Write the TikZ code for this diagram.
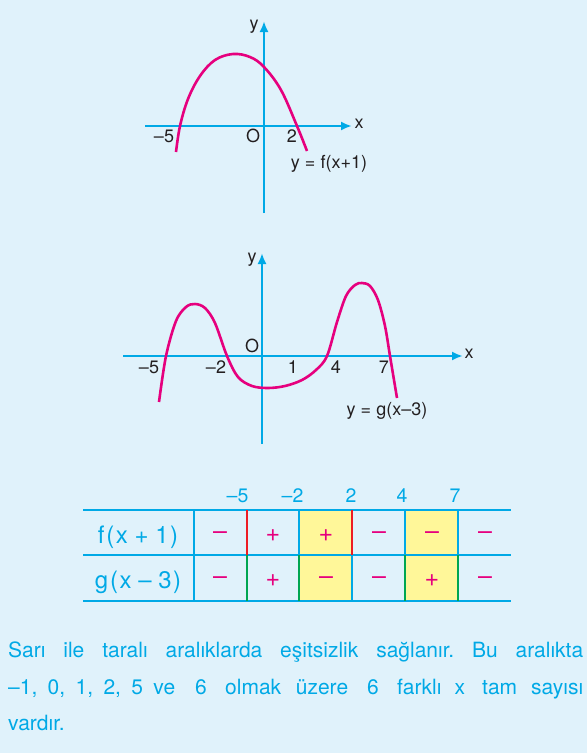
\documentclass[tikz,border=0pt]{standalone}
\usepackage{fontspec}
\setmainfont{TeX Gyre Heros}
\usetikzlibrary{arrows.meta}
\definecolor{bg}{RGB}{224,242,251}
\definecolor{cy}{RGB}{0,169,230}
\definecolor{mg}{RGB}{230,0,126}
\definecolor{rd}{RGB}{237,28,36}
\definecolor{gr}{RGB}{0,166,81}
\definecolor{yl}{RGB}{255,247,153}
\definecolor{ink}{RGB}{35,31,32}
\frenchspacing
\begin{document}
\begin{tikzpicture}[x=1pt,y=-1pt,
  axis/.style={cy,line width=2.2pt,-{Latex[length=11pt,width=9pt]}},
  curve/.style={mg,line width=2.6pt},
  lbl/.style={text=ink,font=\fontsize{18}{20}\selectfont,inner sep=0pt},
  tline/.style={cy,line width=1.8pt},
  sgn/.style={text=mg,font=\fontsize{25}{27}\selectfont,inner sep=0pt},
  rowlbl/.style={text=cy,font=\fontsize{24}{26}\selectfont,inner sep=0pt},
  hdr/.style={text=cy,font=\fontsize{19.5}{21}\selectfont,inner sep=0pt,anchor=base},
  body/.style={text=cy,font=\fontsize{21}{24}\selectfont,inner sep=0pt,anchor=base west}]
\useasboundingbox (0,0) rectangle (587,753);
\fill[bg] (0,0) rectangle (587,753);

% ---------- graph 1 ----------
\coordinate (ax1l) at (145,126);
\coordinate (ax1r) at (352,126);
\coordinate (ay1b) at (264,213);
\coordinate (ay1t) at (264,21);
\draw[axis] (ax1l) -- (ax1r);
\draw[axis] (ay1b) -- (ay1t);
\draw[curve] plot[smooth,tension=0.6] coordinates {(176,152) (180,126) (188,99) (200,76) (215,60) (233,54) (250,57) (264,67) (281,90) (297,126) (307,151)};
\node[lbl] (x1) at (359,124) {x};
\node[lbl] (y1) at (254,27) {y};
\node[lbl] (m5a) at (164,136) {–5};
\node[lbl] (o1) at (253,136) {O};
\node[lbl] (t2a) at (292,136) {2};
\node[lbl] (f1) at (329,164) {y = f(x+1)};

% ---------- graph 2 ----------
\coordinate (ax2l) at (123,356);
\coordinate (ax2r) at (463,356);
\coordinate (ay2b) at (262,444);
\coordinate (ay2t) at (262,253);
\draw[axis] (ax2l) -- (ax2r);
\draw[axis] (ay2b) -- (ay2t);
\draw[curve] plot[smooth,tension=0.55] coordinates {(159,402) (166,356) (176,321) (186,307) (195,304) (205,308) (215,323) (227,356) (238,377) (252,386) (268,388) (285,386) (302,380) (316,370) (327,356) (337,322) (346,296) (355,285) (362,283) (370,286) (378,300) (385,326) (390,356) (397,398)};
\node[lbl] (x2) at (469,354) {x};
\node[lbl] (y2) at (252,260) {y};
\node[lbl] (m5b) at (149,367) {–5};
\node[lbl] (m2b) at (216,367) {–2};
\node[lbl] (o2) at (252,346) {O};
\node[lbl] (t1b) at (293,367) {1};
\node[lbl] (t4b) at (336,367) {4};
\node[lbl] (t7b) at (384,367) {7};
\node[lbl] (g1) at (387,411) {y = g(x–3)};

% ---------- table ----------
\fill[yl] (299,510) rectangle (352,601);
\fill[yl] (405,510) rectangle (458,601);
\coordinate (h1l) at (83,510); \coordinate (h1r) at (511,510);
\coordinate (h2l) at (83,555); \coordinate (h2r) at (511,555);
\coordinate (h3l) at (83,601); \coordinate (h3r) at (511,601);
\draw[tline] (h1l) -- (h1r);
\draw[tline] (h2l) -- (h2r);
\draw[tline] (h3l) -- (h3r);
\draw[tline] (194,510) -- (194,601);
% row 1 separators
\draw[rd,line width=2.2pt] (247,510) -- (247,555);
\draw[tline] (299,510) -- (299,555);
\draw[rd,line width=2.2pt] (352,510) -- (352,555);
\draw[tline] (405,510) -- (405,555);
\draw[tline] (458,510) -- (458,555);
% row 2 separators
\draw[gr,line width=2.2pt] (247,555) -- (247,601);
\draw[gr,line width=2.2pt] (299,555) -- (299,601);
\draw[tline] (352,555) -- (352,601);
\draw[gr,line width=2.2pt] (405,555) -- (405,601);
\draw[gr,line width=2.2pt] (458,555) -- (458,601);

\node[hdr] (hm5) at (243,502) {\llap{–}5};
\node[hdr] (hm2) at (298,502) {\llap{–}2};
\node[hdr] (hp2) at (351,502) {2};
\node[hdr] (hp4) at (402,502) {4};
\node[hdr] (hp7) at (455,502) {7};

\node[rowlbl] (rf) at (138,537) {f\kern2pt(\kern1.5pt x + 1\kern1.5pt)};
\node[rowlbl] (rg) at (138,582) {g\kern2pt(\kern1.5pt x – 3\kern1.5pt)};

\foreach \cx/\s [count=\i] in {220/–,273/+,326/+,379/–,432/–,485/–}
  \node[sgn] (sa\i) at (\cx,536) {\s};
\foreach \cx/\s [count=\i] in {220/–,273/+,326/–,379/–,432/+,485/–}
  \node[sgn] (sb\i) at (\cx,581) {\s};

% ---------- text ----------
\node[body] (l1) at (8,657) {\makebox[575pt][s]{Sarı ile taralı aralıklarda eşitsizlik sağlanır. Bu aralıkta}};
\node[body] (l2a) at (8,694) {\makebox[167pt][s]{–1, 0, 1, 2, 5 ve}};
\node[body] (l2b) at (195,694) {6};
\node[body] (l2c) at (225,694) {\makebox[123pt][s]{olmak üzere}};
\node[body] (l2d) at (367,694) {6};
\node[body] (l2e) at (397,694) {\makebox[68pt][s]{farklı x}};
\node[body] (l2f) at (482,694) {\makebox[101pt][s]{tam sayısı}};
\node[body] (l3) at (8,730) {vardır.};
\end{tikzpicture}
\end{document}
